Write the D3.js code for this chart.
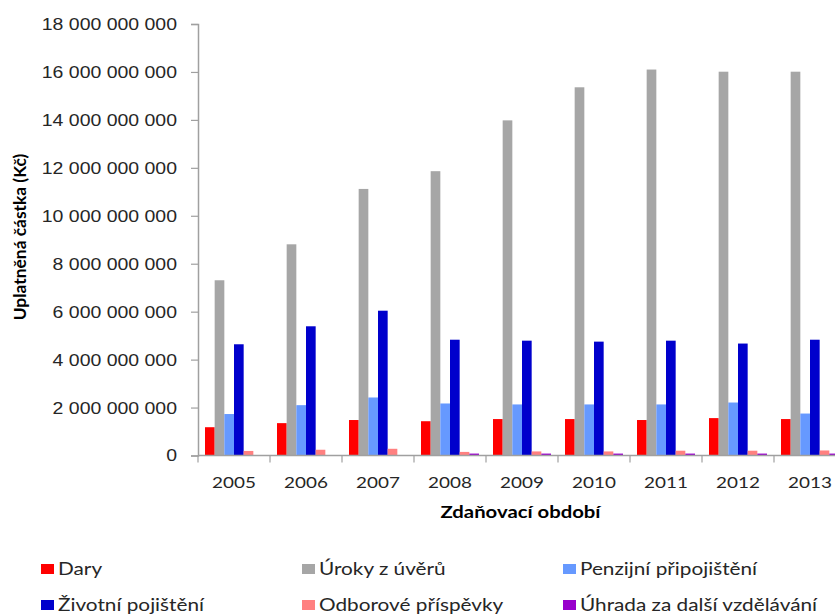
<!DOCTYPE html>
<html>
<head>
<meta charset="utf-8">
<script src="https://cdn.jsdelivr.net/npm/d3@7"></script>
<style>
  html, body { margin: 0; padding: 0; background: #fff; }
  svg { display: block; font-family: Lato, "Open Sans", sans-serif; }
</style>
</head>
<body>
<svg id="chart" width="835" height="616"></svg>
<script>
// Tax periods (x categories)
const years = ["2005", "2006", "2007", "2008", "2009", "2010", "2011", "2012", "2013"];

// Deduction types (series) and their colours
const seriesNames = ["Dary", "Úroky z úvěrů", "Penzijní připojištění", "Životní pojištění", "Odborové příspěvky", "Úhrada za další vzdělávání"];
const seriesColors = ["#FF0000", "#A6A6A6", "#6699FF", "#0000CC", "#FF8080", "#9900CC"];

// Claimed amounts in CZK, one array per series, ordered by year
const dary = [1.18e9, 1.35e9, 1.48e9, 1.43e9, 1.52e9, 1.52e9, 1.48e9, 1.56e9, 1.52e9];
const urokyZUveru = [7.31e9, 8.81e9, 11.12e9, 11.86e9, 13.98e9, 15.36e9, 16.10e9, 16.01e9, 16.01e9];
const penzijniPripojisteni = [1.73e9, 2.10e9, 2.42e9, 2.17e9, 2.13e9, 2.13e9, 2.13e9, 2.21e9, 1.75e9];
const zivotniPojisteni = [4.64e9, 5.39e9, 6.04e9, 4.83e9, 4.79e9, 4.75e9, 4.79e9, 4.67e9, 4.83e9];
const odborovePrispevky = [0.19e9, 0.24e9, 0.28e9, 0.15e9, 0.17e9, 0.17e9, 0.20e9, 0.20e9, 0.21e9];
const uhradaVzdelavani = [0, 0, 0, 0.08e9, 0.08e9, 0.08e9, 0.08e9, 0.08e9, 0.08e9];

// Y axis tick values
const yTicks = [0, 2e9, 4e9, 6e9, 8e9, 10e9, 12e9, 14e9, 16e9, 18e9];

const seriesValues = [dary, urokyZUveru, penzijniPripojisteni, zivotniPojisteni, odborovePrispevky, uhradaVzdelavani];

const svg = d3.select("#chart");
const axisColor = "#A0A0A0";
const textColor = "#262626";
// Horizontal text is set slightly wide
const wide = 1.18;

// Places a text at (x, y) and widens it horizontally about that anchor point
function placeWide(sel, x, y) {
  sel.attr("x", 0).attr("y", 0)
     .attr("transform", (d, i) => `translate(${typeof x === "function" ? x(d, i) : x},${typeof y === "function" ? y(d, i) : y}) scale(${wide},1)`);
}

// Scales: the plot continues past the right edge of the view
const x0 = d3.scaleBand().domain(years).range([198, 846]).padding(0);
const x1 = d3.scaleBand().domain(seriesNames).range([7, 65]).padding(0);
const y = d3.scaleLinear().domain([0, 18e9]).range([455.5, 24]);

const fmt = d3.formatLocale({ decimal: ",", thousands: " ", grouping: [3], currency: ["", " Kč"] }).format(",d");

// Bars
const groups = svg.append("g")
  .selectAll("g")
  .data(years)
  .join("g")
  .attr("transform", d => `translate(${x0(d)},0)`);

groups.selectAll("rect")
  .data((yr, i) => seriesNames.map((s, k) => ({ s, k, v: seriesValues[k][i] })))
  .join("rect")
  .attr("x", d => x1(d.s))
  .attr("width", x1.bandwidth())
  .attr("y", d => y(d.v))
  .attr("height", d => y(0) - y(d.v))
  .attr("fill", d => seriesColors[d.k]);

// Y axis
const yAxis = svg.append("g")
  .attr("transform", "translate(198,0)")
  .call(d3.axisLeft(y).tickValues(yTicks).tickFormat(fmt).tickSize(7).tickPadding(14));
yAxis.select(".domain").attr("stroke", axisColor).attr("stroke-width", 1.5);
yAxis.selectAll(".tick line").attr("stroke", axisColor).attr("stroke-width", 1.2);
yAxis.selectAll(".tick text")
  .attr("fill", textColor)
  .style("font-size", "16.5px")
  .attr("dy", null)
  .attr("dominant-baseline", "central")
  .call(placeWide, -21, 0);

// X axis: ticks sit on category boundaries, labels at category centres
const xAxisG = svg.append("g").attr("transform", "translate(0,455.5)");
xAxisG.append("line")
  .attr("x1", 198).attr("x2", 846)
  .attr("stroke", axisColor).attr("stroke-width", 1.5);
xAxisG.selectAll("line.tk")
  .data(years)
  .join("line")
  .attr("class", "tk")
  .attr("x1", d => x0(d)).attr("x2", d => x0(d))
  .attr("y1", 0).attr("y2", 7)
  .attr("stroke", axisColor).attr("stroke-width", 1.2);
xAxisG.selectAll("text")
  .data(years)
  .join("text")
  .attr("text-anchor", "middle")
  .attr("fill", textColor)
  .style("font-size", "16px")
  .text(d => d)
  .call(placeWide, d => x0(d) + x0.bandwidth() / 2, 32);

// Axis titles
svg.append("text")
  .attr("transform", "translate(26,237) rotate(-90)")
  .attr("text-anchor", "middle")
  .attr("fill", "#000")
  .style("font-size", "17.4px")
  .style("font-weight", "bold")
  .text("Uplatněná částka (Kč)");

svg.append("text")
  .attr("text-anchor", "middle")
  .attr("fill", "#000")
  .style("font-size", "17.2px")
  .style("font-weight", "bold")
  .text("Zdaňovací období")
  .call(placeWide, 520.5, 518);

// Legend: three columns, two rows
const legendCols = [41, 302, 563];
const legendRows = [569, 605];
const legend = svg.append("g")
  .selectAll("g")
  .data(seriesNames)
  .join("g")
  .attr("transform", (d, i) => `translate(${legendCols[i % 3]},${legendRows[Math.floor(i / 3)]})`);
legend.append("rect")
  .attr("x", 0).attr("y", -5)
  .attr("width", 13).attr("height", 10)
  .attr("fill", (d, i) => seriesColors[i]);
legend.append("text")
  .attr("fill", textColor)
  .style("font-size", "17.6px")
  .text(d => d)
  .call(placeWide, 17, 6);
</script>
</body>
</html>
